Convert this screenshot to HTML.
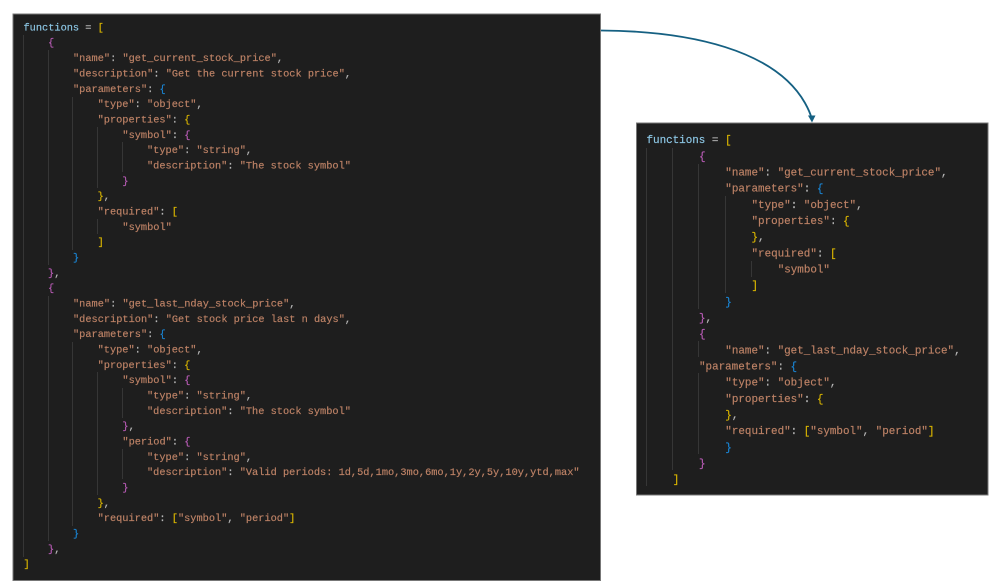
<!DOCTYPE html>
<html>
<head>
<meta charset="utf-8">
<style>
html,body{margin:0;padding:0;background:#fff;width:999px;height:587px;overflow:hidden}
svg{display:block}
text{white-space:pre;font-family:"Liberation Mono",monospace;fill:#bd8266;stroke:#bd8266;stroke-width:.18px}
.l{filter:blur(.3px)}
.r{filter:blur(.3px)}
.l text{font-size:10.3px}
.r text{font-size:10.9px}
.v,text.v{fill:#8cc6e4;stroke:#8cc6e4}
.w,text.w{fill:#b8b8b8;stroke:#b8b8b8}
.g,text.g{fill:#d8b400;stroke:#d8b400}
.p,text.p{fill:#b95cb6;stroke:#b95cb6}
.b,text.b{fill:#1a86d6;stroke:#1a86d6}
.gl line{stroke:#363636;stroke-width:1}
</style>
</head>
<body>
<svg width="999" height="587" viewBox="0 0 999 587" xmlns="http://www.w3.org/2000/svg" xml:space="preserve">
<rect x="13" y="14" width="587.5" height="566.5" fill="#1e1e1e" stroke="#777" stroke-width="1"/>
<rect x="636.5" y="123" width="351.5" height="372" fill="#1e1e1e" stroke="#777" stroke-width="1"/>

<g class="gl">
<line x1="23.5" y1="35" x2="23.5" y2="557"/>
<line x1="48.5" y1="50" x2="48.5" y2="265"/>
<line x1="48.5" y1="296" x2="48.5" y2="541"/>
<line x1="72.5" y1="97" x2="72.5" y2="250"/>
<line x1="72.5" y1="342" x2="72.5" y2="526"/>
<line x1="97.5" y1="127" x2="97.5" y2="188"/>
<line x1="97.5" y1="219" x2="97.5" y2="234"/>
<line x1="97.5" y1="372" x2="97.5" y2="495"/>
<line x1="122.5" y1="142" x2="122.5" y2="172"/>
<line x1="122.5" y1="388" x2="122.5" y2="418"/>
<line x1="122.5" y1="449" x2="122.5" y2="479"/>
<line x1="646.5" y1="148" x2="646.5" y2="486"/>
<line x1="672.5" y1="148" x2="672.5" y2="470"/>
<line x1="698.5" y1="164" x2="698.5" y2="309"/>
<line x1="698.5" y1="341" x2="698.5" y2="357"/>
<line x1="698.5" y1="373" x2="698.5" y2="454"/>
<line x1="725.5" y1="196" x2="725.5" y2="293"/>
<line x1="751.5" y1="261" x2="751.5" y2="277"/>
</g>

<g class="l" transform="translate(0,-0.6)">
<text x="23.5" y="31"><tspan class="v">functions</tspan><tspan class="w"> = </tspan><tspan class="g">[</tspan></text>
<text x="48" y="46.3" class="p">{</text>
<text x="73" y="61.7">"name"<tspan class="w">: </tspan>"get_current_stock_price"<tspan class="w">,</tspan></text>
<text x="73" y="77">"description"<tspan class="w">: </tspan>"Get the current stock price"<tspan class="w">,</tspan></text>
<text x="73" y="92.4">"parameters"<tspan class="w">: </tspan><tspan class="b">{</tspan></text>
<text x="97.6" y="107.7">"type"<tspan class="w">: </tspan>"object"<tspan class="w">,</tspan></text>
<text x="97.6" y="123">"properties"<tspan class="w">: </tspan><tspan class="g">{</tspan></text>
<text x="122.4" y="138.4">"symbol"<tspan class="w">: </tspan><tspan class="p">{</tspan></text>
<text x="147" y="153.7">"type"<tspan class="w">: </tspan>"string"<tspan class="w">,</tspan></text>
<text x="147" y="169">"description"<tspan class="w">: </tspan>"The stock symbol"</text>
<text x="122.4" y="184.4" class="p">}</text>
<text x="97.6" y="199.7"><tspan class="g">}</tspan><tspan class="w">,</tspan></text>
<text x="97.6" y="215">"required"<tspan class="w">: </tspan><tspan class="g">[</tspan></text>
<text x="122.4" y="230.4">"symbol"</text>
<text x="97.6" y="245.7" class="g">]</text>
<text x="73" y="261" class="b">}</text>
<text x="48" y="276.4"><tspan class="p">}</tspan><tspan class="w">,</tspan></text>
<text x="48" y="291.7" class="p">{</text>
<text x="73" y="307">"name"<tspan class="w">: </tspan>"get_last_nday_stock_price"<tspan class="w">,</tspan></text>
<text x="73" y="322.4">"description"<tspan class="w">: </tspan>"Get stock price last n days"<tspan class="w">,</tspan></text>
<text x="73" y="337.7">"parameters"<tspan class="w">: </tspan><tspan class="b">{</tspan></text>
<text x="97.6" y="353">"type"<tspan class="w">: </tspan>"object"<tspan class="w">,</tspan></text>
<text x="97.6" y="368.4">"properties"<tspan class="w">: </tspan><tspan class="g">{</tspan></text>
<text x="122.4" y="383.7">"symbol"<tspan class="w">: </tspan><tspan class="p">{</tspan></text>
<text x="147" y="399">"type"<tspan class="w">: </tspan>"string"<tspan class="w">,</tspan></text>
<text x="147" y="414.4">"description"<tspan class="w">: </tspan>"The stock symbol"</text>
<text x="122.4" y="429.7"><tspan class="p">}</tspan><tspan class="w">,</tspan></text>
<text x="122.4" y="445">"period"<tspan class="w">: </tspan><tspan class="p">{</tspan></text>
<text x="147" y="460.4">"type"<tspan class="w">: </tspan>"string"<tspan class="w">,</tspan></text>
<text x="147" y="475.7">"description"<tspan class="w">: </tspan>"Valid periods: 1d,5d,1mo,3mo,6mo,1y,2y,5y,10y,ytd,max"</text>
<text x="122.4" y="491" class="p">}</text>
<text x="97.6" y="506.4"><tspan class="g">}</tspan><tspan class="w">,</tspan></text>
<text x="97.6" y="521.7">"required"<tspan class="w">: </tspan><tspan class="g">[</tspan>"symbol"<tspan class="w">, </tspan>"period"<tspan class="g">]</tspan></text>
<text x="73" y="537" class="b">}</text>
<text x="48" y="552.4"><tspan class="p">}</tspan><tspan class="w">,</tspan></text>
<text x="23.5" y="567.7" class="g">]</text>
</g>

<g class="r" transform="translate(0,-0.6)">
<text x="646.5" y="143.7"><tspan class="v">functions</tspan><tspan class="w"> = </tspan><tspan class="g">[</tspan></text>
<text x="699" y="159.9" class="p">{</text>
<text x="725.3" y="176">"name"<tspan class="w">: </tspan>"get_current_stock_price"<tspan class="w">,</tspan></text>
<text x="725.3" y="192.2">"parameters"<tspan class="w">: </tspan><tspan class="b">{</tspan></text>
<text x="751.5" y="208.4">"type"<tspan class="w">: </tspan>"object"<tspan class="w">,</tspan></text>
<text x="751.5" y="224.6">"properties"<tspan class="w">: </tspan><tspan class="g">{</tspan></text>
<text x="751.5" y="240.7"><tspan class="g">}</tspan><tspan class="w">,</tspan></text>
<text x="751.5" y="256.9">"required"<tspan class="w">: </tspan><tspan class="g">[</tspan></text>
<text x="777.7" y="273.1">"symbol"</text>
<text x="751.5" y="289.2" class="g">]</text>
<text x="725.3" y="305.4" class="b">}</text>
<text x="699" y="321.6"><tspan class="p">}</tspan><tspan class="w">,</tspan></text>
<text x="699" y="337.8" class="p">{</text>
<text x="725.3" y="353.9">"name"<tspan class="w">: </tspan>"get_last_nday_stock_price"<tspan class="w">,</tspan></text>
<text x="699" y="370.1">"parameters"<tspan class="w">: </tspan><tspan class="b">{</tspan></text>
<text x="725.3" y="386.3">"type"<tspan class="w">: </tspan>"object"<tspan class="w">,</tspan></text>
<text x="725.3" y="402.4">"properties"<tspan class="w">: </tspan><tspan class="g">{</tspan></text>
<text x="725.3" y="418.6"><tspan class="g">}</tspan><tspan class="w">,</tspan></text>
<text x="725.3" y="434.8">"required"<tspan class="w">: </tspan><tspan class="g">[</tspan>"symbol"<tspan class="w">, </tspan>"period"<tspan class="g">]</tspan></text>
<text x="725.3" y="451" class="b">}</text>
<text x="699" y="467.1" class="p">}</text>
<text x="672.8" y="483.3" class="g">]</text>
</g>

<path d="M601,30.5 C690,31 775,50 805,103 Q810,112 811.5,118" fill="none" stroke="#156082" stroke-width="1.8"/>
<polygon points="808,115.5 815.5,115.5 812,122.5" fill="#156082"/>
</svg>
</body>
</html>
